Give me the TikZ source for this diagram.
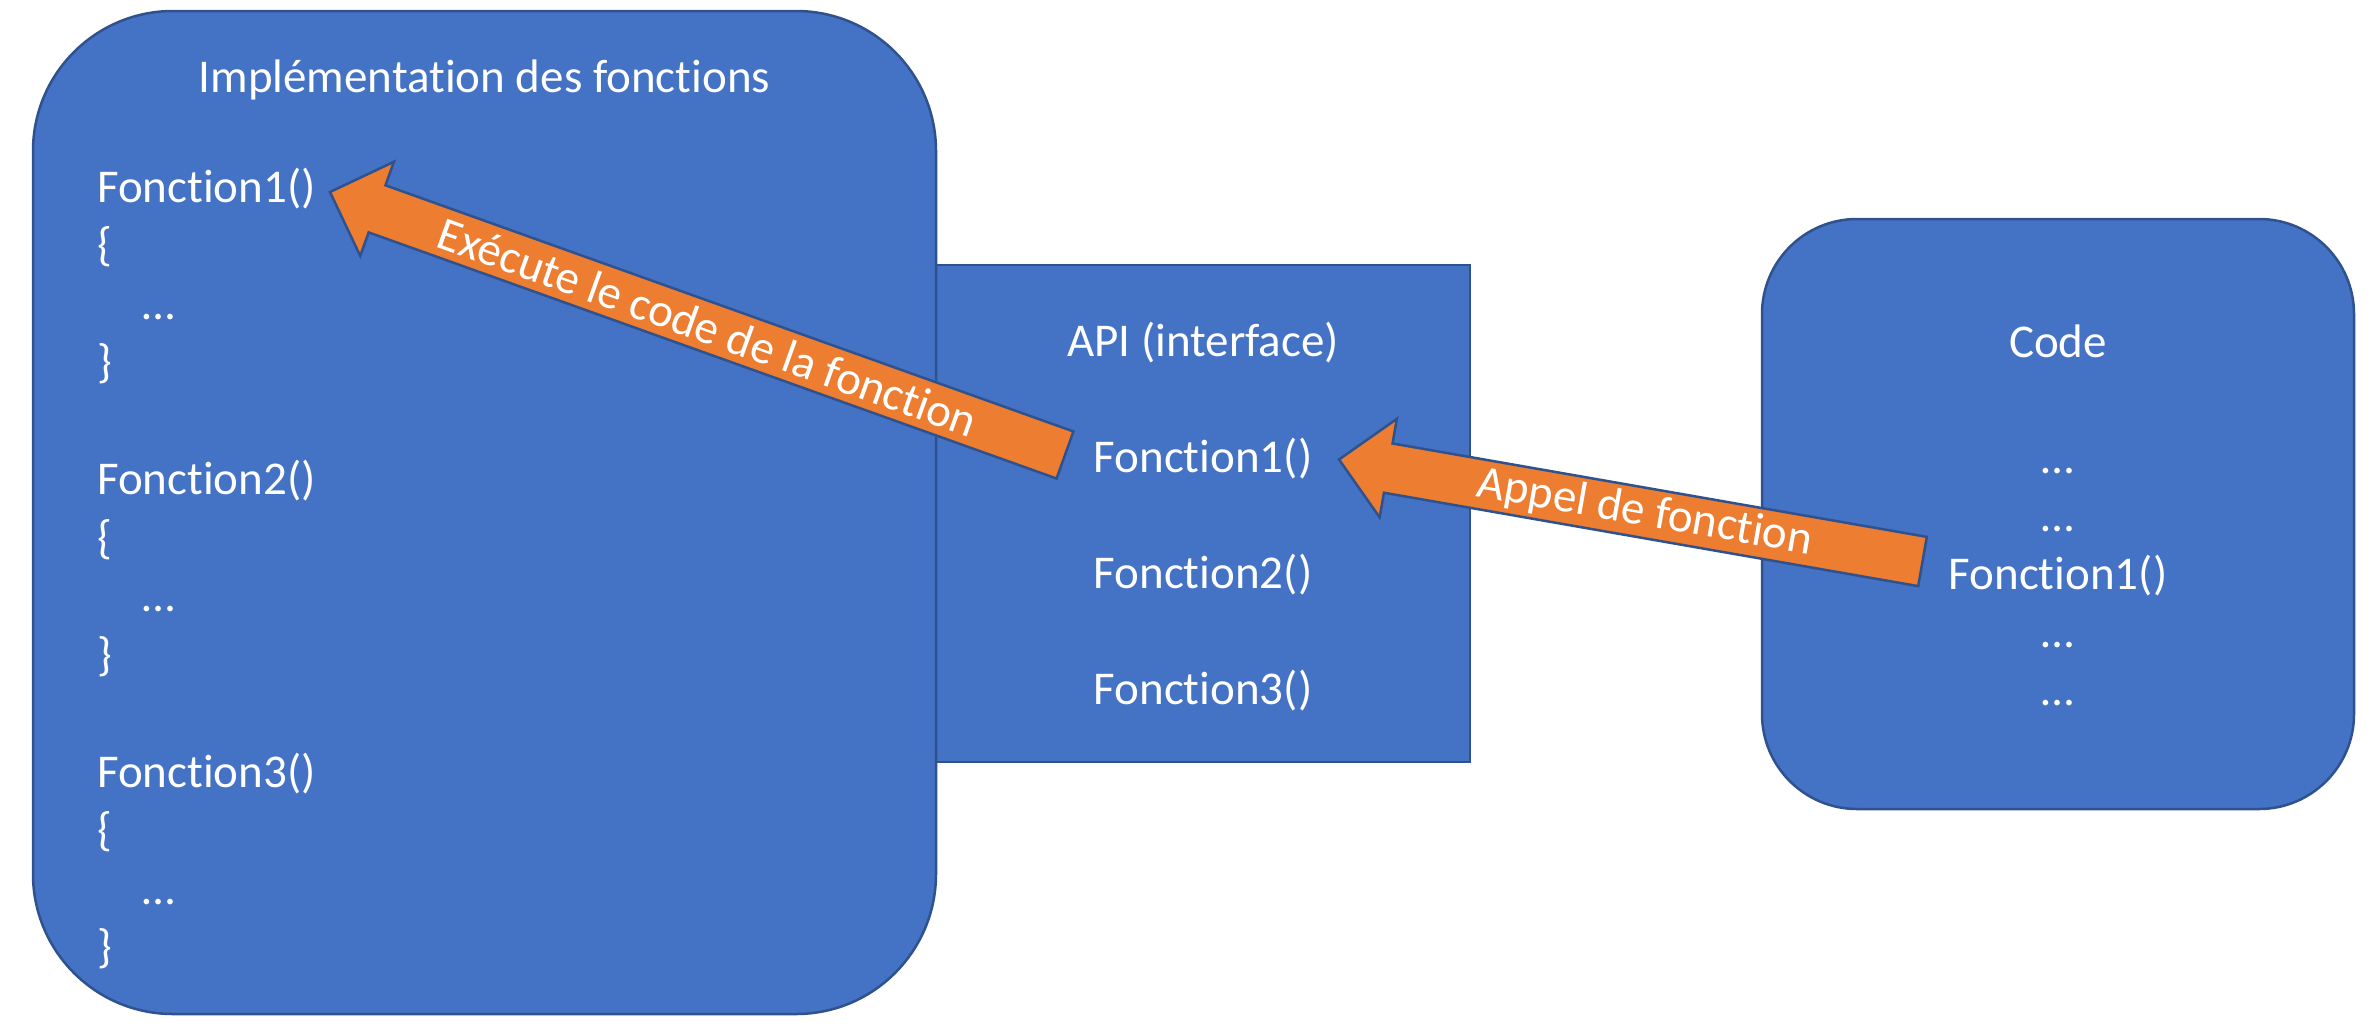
\documentclass[tikz,border=0pt]{standalone}
\usepackage{fontspec}
\setmainfont{Carlito}[Ligatures=NoCommon]
\usetikzlibrary{calc}
\definecolor{boxblue}{HTML}{4472C4}
\definecolor{boxline}{HTML}{2F528F}
\definecolor{arrorange}{HTML}{ED7D31}
\newcommand{\blockarr}[2]{%
  \coordinate (#2-h) at ($(#2)!50pt!(#1)$);
  \draw[blockarrow] ($(#1)!25pt!90:(#2)$) -- ($(#2-h)!25pt!90:(#2)$) -- ($(#2-h)!50pt!90:(#2)$) -- (#2)
    -- ($(#2-h)!50pt!-90:(#2)$) -- ($(#2-h)!25pt!-90:(#2)$) -- ($(#1)!25pt!-90:(#2)$) -- cycle;}
\begin{document}
\begin{tikzpicture}[x=1pt,y=1pt,
  panel/.style={fill=boxblue,draw=boxline,line width=2.5pt,inner sep=0pt,outer sep=0pt},
  txt/.style={text=white,inner sep=0pt,font=\fontsize{47}{56}\selectfont},
  lefttxt/.style={txt,anchor=base west},
  ctrtxt/.style={txt,anchor=base},
  blockarrow/.style={fill=arrorange,draw=boxline,line width=2.5pt,line join=miter},
  arrlabel/.style={txt,sloped,anchor=center}]
\useasboundingbox (0,0) rectangle (2375,-1029);
\fill[white] (0,0) rectangle (2375,-1029);
% panels
\node[panel,minimum width=534pt,minimum height=497pt] (api) at (1203,-513.5) {};
\node[panel,rounded corners=140pt,minimum width=903pt,minimum height=1003pt] (impl) at (484.5,-512.5) {};
\node[panel,rounded corners=95pt,minimum width=592pt,minimum height=590pt] (code) at (2058,-514) {};
% implementation text
\node[ctrtxt] (impltitle) at (484.5,-92) {Implémentation des fonctions};
\node[lefttxt] (if1) at (97,-202) {Fonction1()};
\node[lefttxt] (if1a) at (97,-260.5) {\{};
\node[lefttxt] (if1b) at (142,-319) {…};
\node[lefttxt] (if1c) at (97,-377.5) {\}};
\node[lefttxt] (if2) at (97,-494.5) {Fonction2()};
\node[lefttxt] (if2a) at (97,-553) {\{};
\node[lefttxt] (if2b) at (142,-611.5) {…};
\node[lefttxt] (if2c) at (97,-670) {\}};
\node[lefttxt] (if3) at (97,-787) {Fonction3()};
\node[lefttxt] (if3a) at (97,-845.5) {\{};
\node[lefttxt] (if3b) at (142,-904) {…};
\node[lefttxt] (if3c) at (97,-962.5) {\}};
% API text
\node[ctrtxt] (apititle) at (1203,-356) {API (interface)};
\node[ctrtxt] (af1) at (1203,-472) {Fonction1()};
\node[ctrtxt] (af2) at (1203,-588) {Fonction2()};
\node[ctrtxt] (af3) at (1203,-704) {Fonction3()};
% code text
\node[ctrtxt] (codetitle) at (2058,-357) {Code};
\node[ctrtxt] (cd1) at (2058,-473) {…};
\node[ctrtxt] (cd2) at (2058,-531) {…};
\node[ctrtxt] (cf1) at (2058,-589) {Fonction1()};
\node[ctrtxt] (cd3) at (2058,-647) {…};
\node[ctrtxt] (cd4) at (2058,-705) {…};
% arrows
\coordinate (a1tail) at (1065,-455);
\coordinate (a1tip) at (330,-192);
\coordinate (a2tail) at (1922.5,-561.5);
\coordinate (a2tip) at (1339,-459.5);
\blockarr{a1tail}{a1tip}
\blockarr{a2tail}{a2tip}
\path (a1tail) -- (a1tip) node[arrlabel,pos=0.486] (lab1) {Exécute le code de la fonction};
\path (a2tail) -- (a2tip) node[arrlabel,pos=0.476] (lab2) {Appel de fonction};
\end{tikzpicture}
\end{document}
